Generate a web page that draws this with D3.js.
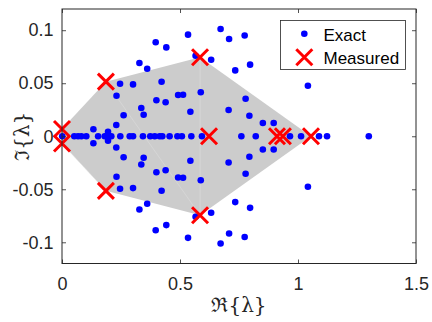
<!DOCTYPE html>
<html>
<head>
<meta charset="utf-8">
<script src="https://cdn.jsdelivr.net/npm/d3@7"></script>
<style>
  body { margin: 0; background: #fff; }
  svg { display: block; }
  .tick text { font-family: "Liberation Sans", Arial, Helvetica, sans-serif; font-size: 18px; fill: #262626; }
</style>
</head>
<body>
<div id="chart"></div>
<script>
// exact eigenvalues (real, imaginary parts)
const exactRe = [
  0.001, 0.052, 0.068, 0.082, 0.103, 0.153, 0.181, 0.195, 0.209, 0.247, 0.287, 0.301,
  0.343, 0.374, 0.393, 0.414, 0.425, 0.456, 0.489, 0.508, 0.548, 0.593, 0.760, 0.821,
  0.966, 1.013, 1.089, 1.123, 1.300,
  0.133, 0.133, 0.230, 0.230, 0.261, 0.261, 0.231, 0.231, 0.246, 0.246, 0.301, 0.301,
  0.328, 0.328, 0.361, 0.361, 0.397, 0.397, 0.442, 0.442, 0.534, 0.534, 0.336, 0.336,
  0.346, 0.346, 0.400, 0.400, 0.422, 0.422, 0.439, 0.439, 0.492, 0.492, 0.513, 0.513,
  0.544, 0.544, 0.588, 0.588, 0.566, 0.566, 0.632, 0.632, 0.672, 0.672, 0.708, 0.708,
  0.774, 0.774, 0.734, 0.734, 0.797, 0.797, 0.778, 0.778, 0.706, 0.706, 0.794, 0.794,
  0.851, 0.851, 0.897, 0.897, 1.042, 1.042, 0.195, 0.195
];
const exactIm = [
  0, 0, 0, 0, 0, 0, 0, 0, 0, 0, 0, 0,
  0, 0, 0, 0, 0, 0, 0, 0, 0, 0, 0, 0,
  0, 0, 0, 0, 0,
  0.0066, -0.0066, 0.0106, -0.0106, 0.0198, -0.0198, 0.0382, -0.0382, 0.0495, -0.0495, 0.0489, -0.0489,
  0.0691, -0.0691, 0.0637, -0.0637, 0.0887, -0.0887, 0.0838, -0.0838, 0.0958, -0.0958, 0.0266, -0.0266,
  0.0203, -0.0203, 0.0340, -0.0340, 0.0514, -0.0514, 0.0321, -0.0321, 0.0389, -0.0389, 0.0392, -0.0392,
  0.0231, -0.0231, 0.0415, -0.0415, 0.0759, -0.0759, 0.0722, -0.0722, 0.1011, -0.1011, 0.0917, -0.0917,
  0.0950, -0.0950, 0.0621, -0.0621, 0.0675, -0.0675, 0.0354, -0.0354, 0.0247, -0.0247, 0.0193, -0.0193,
  0.0125, -0.0125, 0.0125, -0.0125, 0.0476, -0.0476, 0.0043, -0.0043
];

// measured eigenvalues
const measRe = [0, 0, 0.186, 0.186, 0.585, 0.585, 0.623, 0.911, 0.936, 1.055];
const measIm = [0.0068, -0.0068, 0.0515, -0.0515, 0.0745, -0.0745, 0, 0, 0, 0];

// hull of measured values (gray patch), in drawing order
const hullIdx = [0, 2, 4, 9, 5, 3, 1];
// faint patch edges inside the gray area (pairs of measured indices)
const innerEdges = [[4, 5], [2, 5], [1, 3]];

const xTicks = [0, 0.5, 1, 1.5];
const yTicks = [-0.1, -0.05, 0, 0.05, 0.1];

const W = 432, H = 322;
const margin = {top: 9, right: 16, bottom: 58.5, left: 62};
const axisColor = "#262626";

const svg = d3.select("#chart").append("svg")
  .attr("width", W)
  .attr("height", H);

const x = d3.scaleLinear().domain([0, 1.5]).range([margin.left, W - margin.right]);
const y = d3.scaleLinear().domain([-0.12, 0.12]).range([H - margin.bottom, margin.top]);

const fmt = d => d === 0 ? "0" : String(d);

// gray patch
svg.append("path")
  .attr("d", d3.line()(hullIdx.map(i => [x(measRe[i]), y(measIm[i])])) + "Z")
  .attr("fill", "#cccccc")
  .attr("stroke", "none");

svg.selectAll(".inner")
  .data(innerEdges)
  .enter().append("line")
  .attr("x1", d => x(measRe[d[0]]))
  .attr("y1", d => y(measIm[d[0]]))
  .attr("x2", d => x(measRe[d[1]]))
  .attr("y2", d => y(measIm[d[1]]))
  .attr("stroke", "#dedede")
  .attr("stroke-width", 0.5);

// exact dots
svg.selectAll(".dot")
  .data(exactRe.map((r, i) => [r, exactIm[i]]))
  .enter().append("circle")
  .attr("cx", d => x(d[0]))
  .attr("cy", d => y(d[1]))
  .attr("r", 3.3)
  .attr("fill", "#0000ff");

// measured crosses
const cross = (g, cx, cy, s) => {
  g.append("path")
    .attr("d", `M${cx - s},${cy - s}L${cx + s},${cy + s}M${cx - s},${cy + s}L${cx + s},${cy - s}`)
    .attr("stroke", "#ff0000")
    .attr("stroke-width", 3)
    .attr("fill", "none");
};
const gm = svg.append("g");
measRe.forEach((r, i) => cross(gm, x(r), y(measIm[i]), 8));

// axes with inward ticks
const x0 = margin.left, x1 = W - margin.right, y0 = H - margin.bottom, y1 = margin.top;

const gx = svg.append("g")
  .attr("transform", `translate(0,${y0})`)
  .call(d3.axisBottom(x).tickValues(xTicks).tickFormat(fmt).tickSizeInner(-4).tickSizeOuter(0).tickPadding(13.5));
const gy = svg.append("g")
  .attr("transform", `translate(${x0},0)`)
  .call(d3.axisLeft(y).tickValues(yTicks).tickFormat(fmt).tickSizeInner(-4).tickSizeOuter(0).tickPadding(8.5));
const gt = svg.append("g")
  .attr("transform", `translate(0,${y1})`)
  .call(d3.axisTop(x).tickValues(xTicks).tickFormat("").tickSizeInner(-4).tickSizeOuter(0));
const gr = svg.append("g")
  .attr("transform", `translate(${x1},0)`)
  .call(d3.axisRight(y).tickValues(yTicks).tickFormat("").tickSizeInner(-4).tickSizeOuter(0));

[gx, gy, gt, gr].forEach(g => {
  g.select(".domain").remove();
  g.selectAll(".tick line").attr("stroke", axisColor).attr("stroke-width", 0.8);
});

svg.append("rect")
  .attr("x", x0).attr("y", y1)
  .attr("width", x1 - x0).attr("height", y0 - y1)
  .attr("fill", "none")
  .attr("stroke", axisColor)
  .attr("stroke-width", 1);

// axis labels
svg.append("text")
  .attr("x", (x0 + x1) / 2)
  .attr("y", 312)
  .attr("text-anchor", "middle")
  .style("font-family", "'DejaVu Serif', serif")
  .style("font-size", "20px")
  .attr("fill", axisColor)
  .text("ℜ{λ}");

svg.append("text")
  .attr("transform", `translate(29,${(y0 + y1) / 2}) rotate(-90)`)
  .attr("text-anchor", "middle")
  .style("font-family", "'DejaVu Serif', serif")
  .style("font-size", "20px")
  .attr("fill", axisColor)
  .text("ℑ{λ}");

// legend
const lg = svg.append("g");
lg.append("rect")
  .attr("x", 280.5).attr("y", 20.5)
  .attr("width", 125).attr("height", 49)
  .attr("fill", "#fff")
  .attr("stroke", axisColor)
  .attr("stroke-width", 0.8);
lg.append("circle").attr("cx", 304.3).attr("cy", 33.7).attr("r", 3.3).attr("fill", "#0000ff");
cross(lg, 304.3, 57.3, 8);
lg.selectAll(".lt")
  .data(["Exact", "Measured"])
  .enter().append("text")
  .attr("x", 323.5)
  .attr("y", (d, i) => i === 0 ? 40.7 : 64)
  .style("font-family", "'Liberation Sans', Arial, Helvetica, sans-serif")
  .style("font-size", "17px")
  .attr("fill", "#000")
  .text(d => d);
</script>
</body>
</html>
